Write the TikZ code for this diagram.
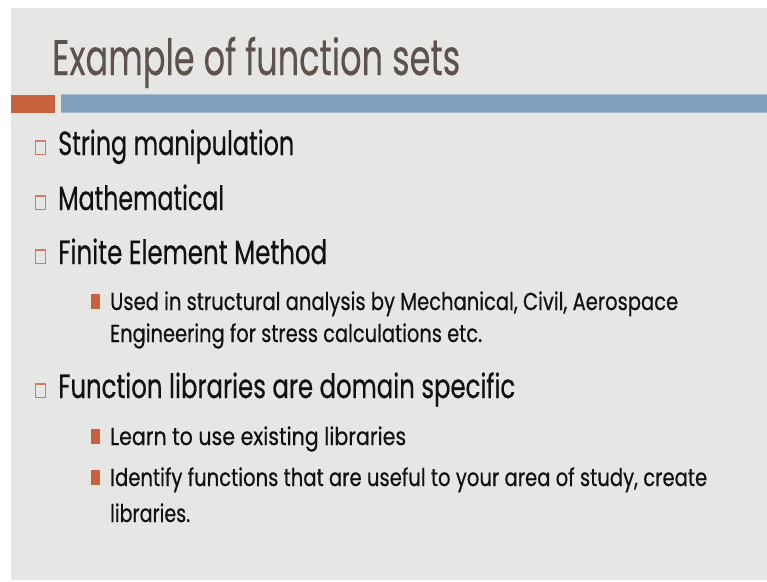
\documentclass[tikz,border=0pt]{standalone}
\usepackage{fontspec}
\setmainfont{Poppins}
\newfontface\heavyface{Poppins}[FakeBold=0.6]
\newfontface\titleface{Poppins}[FakeBold=0.3]
\usepackage{graphicx}
\definecolor{bgc}{HTML}{E6E7E4}
\definecolor{titlec}{HTML}{5D524E}
\definecolor{accent}{HTML}{C8623E}
\definecolor{barblue}{HTML}{7F9FBC}
\definecolor{barlight}{HTML}{A9BDD0}
\definecolor{hollowc}{HTML}{D27A62}
\definecolor{textc}{HTML}{111111}
\newcommand{\fitw}[2]{\resizebox{#1pt}{\height}{#2}}
\tikzset{
  titletext/.style={anchor=base west, inner sep=0pt, text=titlec, font=\titleface\fontsize{50}{58}\selectfont},
  lvlone/.style={anchor=base west, inner sep=0pt, text=textc, font=\heavyface\fontsize{33.5}{40}\selectfont},
  lvltwo/.style={anchor=base west, inner sep=0pt, text=textc, font=\heavyface\fontsize{24.5}{30}\selectfont},
  hollowbox/.style={draw=hollowc, line width=1.3pt, fill=none},
  filledbox/.style={fill=accent, draw=none}
}
\begin{document}
\begin{tikzpicture}[x=1pt,y=-1pt]
\useasboundingbox (0,0) rectangle (767,581);
\fill[white] (0,0) rectangle (767,581);
\fill[bgc] (11,8) rectangle (767,580);
% bars
\fill[accent] (11,95) rectangle (55,113);
\fill[barblue] (61,94) rectangle (767,113);
\draw[barlight, line width=0.8pt] (61,94.4) -- (767,94.4);
\draw[barlight, line width=0.8pt] (61,112.6) -- (767,112.6);
% title
\node[titletext] (title) at (52,75) {\fitw{408}{Example of function sets}};
% level one
\node[lvlone] (l1) at (58,155) {\fitw{236}{String manipulation}};
\node[lvlone] (l2) at (58,210) {\fitw{166}{Mathematical}};
\node[lvlone] (l3) at (58,264) {\fitw{269}{Finite Element Method}};
\node[lvlone] (l4) at (58,398) {\fitw{457}{Function libraries are domain specific}};
\foreach \b in {155,210,264,398}{
  \draw[hollowbox] (35.5,\b-14) rectangle (45.5,\b-0.5);
}
% level two
\node[lvltwo] (s1) at (110,310) {\fitw{568}{Used in structural analysis by Mechanical, Civil, Aerospace}};
\node[lvltwo] (s1b) at (110,342) {\fitw{372}{Engineering for stress calculations etc.}};
\node[lvltwo] (s2) at (110,445) {\fitw{296}{Learn to use existing libraries}};
\node[lvltwo] (s3) at (110,486) {\fitw{597}{Identify functions that are useful to your area of study, create}};
\node[lvltwo] (s3b) at (110,522) {\fitw{80}{libraries.}};
\foreach \b in {310,445,486}{
  \fill[filledbox] (91,\b-16) rectangle (100,\b-1);
}
\end{tikzpicture}
\end{document}
